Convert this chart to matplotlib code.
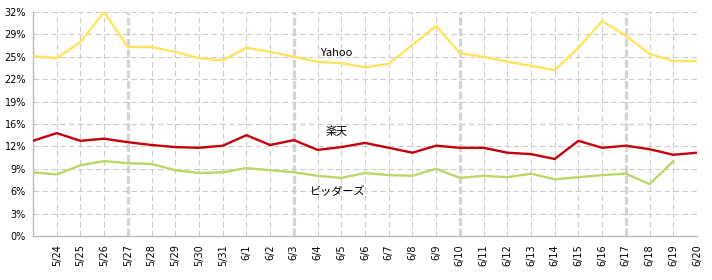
import matplotlib
matplotlib.use("Agg")
import matplotlib.pyplot as plt
import numpy as np

dates = ["5/23", "5/24", "5/25", "5/26", "5/27", "5/28", "5/29", "5/30", "5/31",
         "6/1", "6/2", "6/3", "6/4", "6/5", "6/6", "6/7", "6/8", "6/9", "6/10",
         "6/11", "6/12", "6/13", "6/14", "6/15", "6/16", "6/17", "6/18", "6/19", "6/20"]
yahoo = [25.7, 25.4, 27.7, 32.0, 27.0, 27.0, 26.3, 25.4, 25.1,
         26.9, 26.3, 25.6, 24.9, 24.7, 24.1, 24.6, 27.3, 30.0, 26.1,
         25.6, 24.9, 24.3, 23.7, 26.9, 30.7, 28.6, 26.0, 25.0, 25.0]
rakuten = [13.6, 14.7, 13.6, 13.9, 13.4, 13.0, 12.7, 12.6, 12.9,
           14.4, 13.0, 13.7, 12.3, 12.7, 13.3, 12.6, 11.9, 12.9, 12.6,
           12.6, 11.9, 11.7, 11.0, 13.6, 12.6, 12.9, 12.4, 11.6, 11.9]
bidders = [9.1, 8.8, 10.1, 10.7, 10.4, 10.3, 9.4, 9.0, 9.1,
           9.7, 9.4, 9.1, 8.6, 8.3, 9.0, 8.7, 8.6, 9.6, 8.3,
           8.6, 8.4, 8.9, 8.1, 8.4, 8.7, 8.9, 7.4, 10.7, np.nan]
ytick_vals = [0, 3.2, 6.4, 9.6, 12.8, 16, 19.2, 22.4, 25.6, 28.8, 32]
ytick_labels = ["0%", "3%", "6%", "9%", "12%", "16%", "19%", "22%", "25%", "29%", "32%"]
week_marks = ["5/27", "6/3", "6/10", "6/17"]
series_names = ["Yahoo", "楽天", "ビッダーズ"]

plt.rcParams['font.family'] = ['Noto Sans CJK JP', 'DejaVu Sans']

fig = plt.figure(figsize=(7.12, 2.8), dpi=100)
ax = fig.add_axes([33/712, 44/280, 664/712, 224/280])
x = np.arange(len(dates))

grid_c = "#cccccc"
for i, d in enumerate(dates):
    if i == 0:
        continue
    if d in week_marks:
        ax.axvline(i, color="#d4d4d4", lw=2.3, ls=(0, (2.5, 0.8)), zorder=1)
    else:
        ax.axvline(i, color=grid_c, lw=0.8, ls=(0, (5, 3)), zorder=1)
for v in ytick_vals[1:]:
    ax.axhline(v, color=grid_c, lw=0.8, ls=(0, (5, 3)), zorder=1)

ax.plot(x, yahoo, color="#ffe35e", lw=1.7, zorder=3)
ax.plot(x, rakuten, color="#c4000c", lw=1.7, zorder=3)
ax.plot(x, bidders, color="#bcd667", lw=1.7, zorder=3)

ax.text(12.8, 26.2, series_names[0], fontsize=8, ha="center", va="center", zorder=4)
ax.text(12.8, 14.9, series_names[1], fontsize=8, ha="center", va="center", zorder=4)
ax.text(12.85, 6.3, series_names[2], fontsize=8, ha="center", va="center", zorder=4)

ax.set_xlim(0, len(dates) - 1)
ax.set_ylim(0, 32)
ax.set_yticks(ytick_vals)
ax.set_yticklabels(ytick_labels, fontsize=7, family=['DejaVu Sans'])
ax.set_xticks(x[1:])
ax.set_xticklabels(dates[1:], rotation=90, fontsize=7, family=['DejaVu Sans'])
ax.tick_params(axis="y", length=0, pad=5)
ax.tick_params(axis="x", length=0, pad=6)
for s in ["top", "right"]:
    ax.spines[s].set_visible(False)
for s in ["left", "bottom"]:
    ax.spines[s].set_color("#bbbbbb")
    ax.spines[s].set_linewidth(1)

fig.savefig("out.png", dpi=100)
